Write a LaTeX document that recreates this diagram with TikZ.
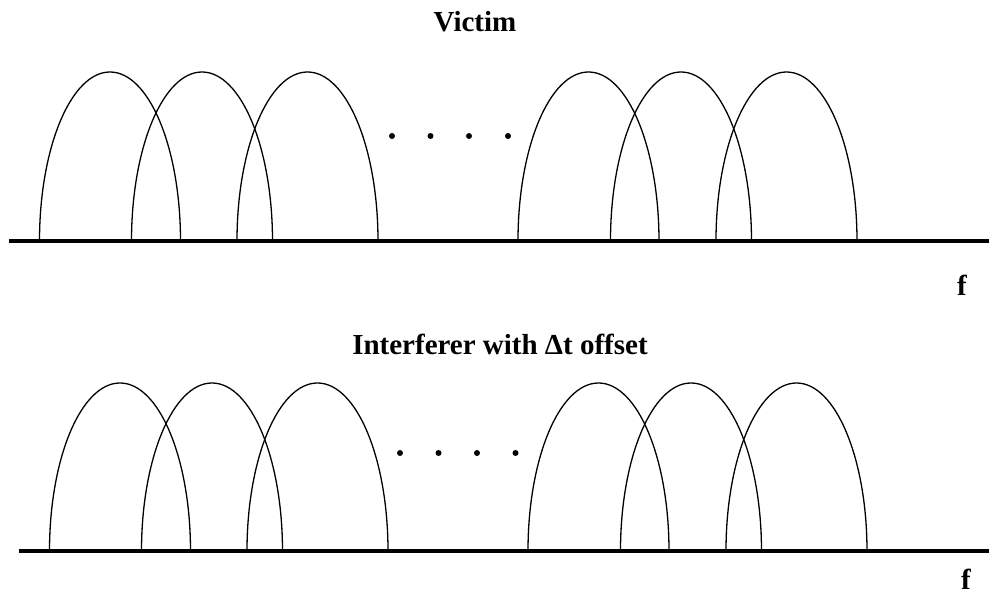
\documentclass[tikz,border=0pt]{standalone}
\usepackage{fontspec}
\setmainfont{Liberation Serif}
\begin{document}
\begin{tikzpicture}[x=1pt,y=1pt,
  archline/.style={line width=1.3pt,line join=round},
  axisline/.style={line width=4pt},
  dotmark/.style={fill=black},
  title/.style={anchor=base,inner sep=0pt,font=\fontsize{29}{34}\selectfont\bfseries},
  axislabel/.style={anchor=base,inner sep=0pt,font=\fontsize{29}{34}\selectfont\bfseries}]
\useasboundingbox (0,0) rectangle (989,596);
% top spectrum (victim)
\node[title] (victim) at (475,564.5) {Victim};
\foreach \c in {110,202,307.5,588.5,681,786.5}{
  \draw[archline] (\c-70.5,355) arc[start angle=180,end angle=0,x radius=70.5,y radius=169];
}
\foreach \d in {392,430.5,469,508}{
  \fill[dotmark] (\d,460) circle (3);
}
\draw[axisline] (9,355) -- (989,355);
\node[axislabel] (f1) at (962,300) {f};
% bottom spectrum (interferer)
\node[title] (interf) at (500,241) {Interferer with Δt offset};
\foreach \c in {120,212,317.5,598.5,691,796.5}{
  \draw[archline] (\c-70.5,45) arc[start angle=180,end angle=0,x radius=70.5,y radius=168];
}
\foreach \d in {400,438.5,477,515.5}{
  \fill[dotmark] (\d,143) circle (3);
}
\draw[axisline] (19,45) -- (989,45);
\node[axislabel] (f2) at (966,6) {f};
\end{tikzpicture}
\end{document}
